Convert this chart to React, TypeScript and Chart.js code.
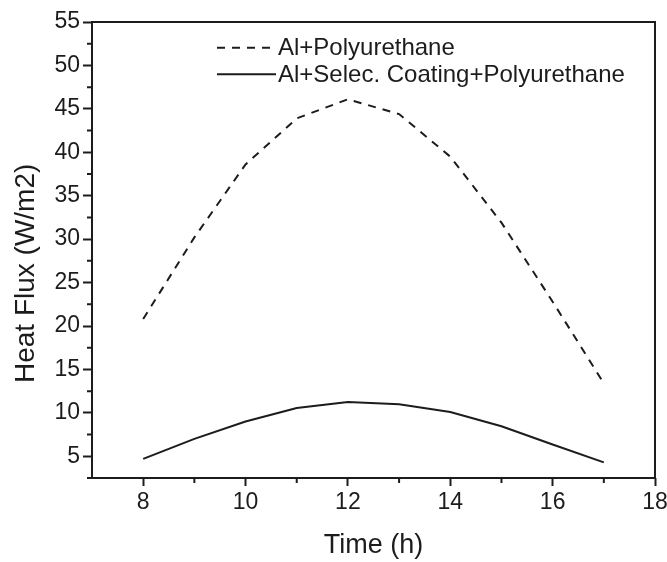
import React, { useEffect, useRef } from 'react';
import { Chart, registerables } from 'chart.js';

Chart.register(...registerables);

// ---- data ----
const TIME_H = [8, 9, 10, 11, 12, 13, 14, 15, 16, 17];
const AL_PU = [20.8, 30.2, 38.6, 43.9, 46.1, 44.4, 39.5, 31.9, 22.8, 13.4];
const AL_SEL_PU = [4.7, 7.0, 9.0, 10.55, 11.25, 11.0, 10.1, 8.45, 6.35, 4.3];
const SERIES_LABELS = ['Al+Polyurethane', 'Al+Selec. Coating+Polyurethane'];
const X_TICKS = [8, 10, 12, 14, 16, 18];
const X_MINOR = [9, 11, 13, 15, 17];
const Y_TICKS = [5, 10, 15, 20, 25, 30, 35, 40, 45, 50, 55];
const Y_MINOR = [2.5, 7.5, 12.5, 17.5, 22.5, 27.5, 32.5, 37.5, 42.5, 47.5, 52.5];
const X_TITLE = 'Time (h)';
const Y_TITLE = 'Heat Flux (W/m2)';

const FONT = '"Liberation Sans", Arial, Helvetica, sans-serif';
const INK = '#1c1c1c';

const framePlugin = {
  id: 'frameAndLegend',
  afterDraw(chart: any) {
    const { ctx, chartArea } = chart;
    const { left, right, top, bottom } = chartArea;
    const xs = chart.scales.x;
    const ys = chart.scales.y;
    ctx.save();
    // minor ticks
    ctx.strokeStyle = INK;
    ctx.lineWidth = 2;
    ctx.beginPath();
    X_MINOR.forEach((v) => {
      const px = xs.getPixelForValue(v);
      ctx.moveTo(px, bottom);
      ctx.lineTo(px, bottom + 5);
    });
    Y_MINOR.forEach((v) => {
      const py = ys.getPixelForValue(v);
      ctx.moveTo(left - 5, py);
      ctx.lineTo(left, py);
    });
    ctx.stroke();
    // frame
    ctx.lineWidth = 2;
    ctx.strokeRect(left, top, right - left, bottom - top);

    // legend
    const lx0 = 217;
    const lx1 = 276;
    const rowY = [47.7, 74.3];
    ctx.font = `24px ${FONT}`;
    ctx.textBaseline = 'middle';
    ctx.textAlign = 'left';
    chart.data.datasets.forEach((ds: any, i: number) => {
      const y = rowY[i];
      ctx.beginPath();
      ctx.setLineDash(ds.borderDash || []);
      ctx.lineWidth = ds.borderWidth;
      ctx.strokeStyle = ds.borderColor;
      ctx.moveTo(lx0, y);
      ctx.lineTo(lx1, y);
      ctx.stroke();
      ctx.setLineDash([]);
      ctx.fillStyle = INK;
      ctx.fillText(ds.label, lx1 + 2, y + 1);
    });
    ctx.restore();
  },
};

export default function App() {
  const ref = useRef<HTMLCanvasElement | null>(null);

  useEffect(() => {
    if (!ref.current) return;
    const chart = new Chart(ref.current, {
      type: 'line',
      data: {
        datasets: [
          {
            label: SERIES_LABELS[0],
            data: TIME_H.map((t, i) => ({ x: t, y: AL_PU[i] })),
            borderColor: INK,
            borderWidth: 2,
            borderDash: [8, 7],
            pointRadius: 0,
            tension: 0,
            fill: false,
          },
          {
            label: SERIES_LABELS[1],
            data: TIME_H.map((t, i) => ({ x: t, y: AL_SEL_PU[i] })),
            borderColor: INK,
            borderWidth: 2,
            pointRadius: 0,
            tension: 0,
            fill: false,
          },
        ],
      },
      options: {
        responsive: false,
        animation: false,
        events: [],
        layout: { padding: { left: 0, top: 22, right: 12, bottom: 0 } },
        plugins: {
          legend: { display: false },
          tooltip: { enabled: false },
        },
        scales: {
          x: {
            type: 'linear',
            min: 7,
            max: 18,
            afterBuildTicks: (s: any) => {
              s.ticks = X_TICKS.map((v) => ({ value: v }));
            },
            afterFit: (s: any) => {
              s.height = 84;
              s.paddingLeft = 0;
              s.paddingRight = 0;
            },
            border: { display: false },
            grid: {
              drawOnChartArea: false,
              drawTicks: true,
              tickLength: 8,
              tickWidth: 2,
              tickColor: INK,
            },
            ticks: {
              color: INK,
              font: { family: FONT, size: 23 },
              padding: 3,
              maxRotation: 0,
              autoSkip: false,
            },
            title: {
              display: true,
              text: X_TITLE,
              color: INK,
              font: { family: FONT, size: 27 },
              padding: { top: 0, bottom: 0 },
            },
          },
          y: {
            type: 'linear',
            min: 2.5,
            max: 55,
            afterBuildTicks: (s: any) => {
              s.ticks = Y_TICKS.map((v) => ({ value: v }));
            },
            afterFit: (s: any) => {
              s.width = 92;
              s.paddingTop = 0;
              s.paddingBottom = 0;
            },
            border: { display: false },
            grid: {
              drawOnChartArea: false,
              drawTicks: true,
              tickLength: 9,
              tickWidth: 2,
              tickColor: INK,
            },
            ticks: {
              color: INK,
              font: { family: FONT, size: 23 },
              padding: 3,
              autoSkip: false,
            },
            title: {
              display: true,
              text: Y_TITLE + '      ',
              color: INK,
              font: { family: FONT, size: 28 },
              padding: { top: 9, bottom: 0 },
            },
          },
        },
      },
      plugins: [framePlugin],
    } as any);
    return () => chart.destroy();
  }, []);

  return (
    <div style={{ position: 'fixed', left: 0, top: 0, width: 667, height: 562, background: '#fff' }}>
      <canvas ref={ref} width={667} height={562} />
    </div>
  );
}
